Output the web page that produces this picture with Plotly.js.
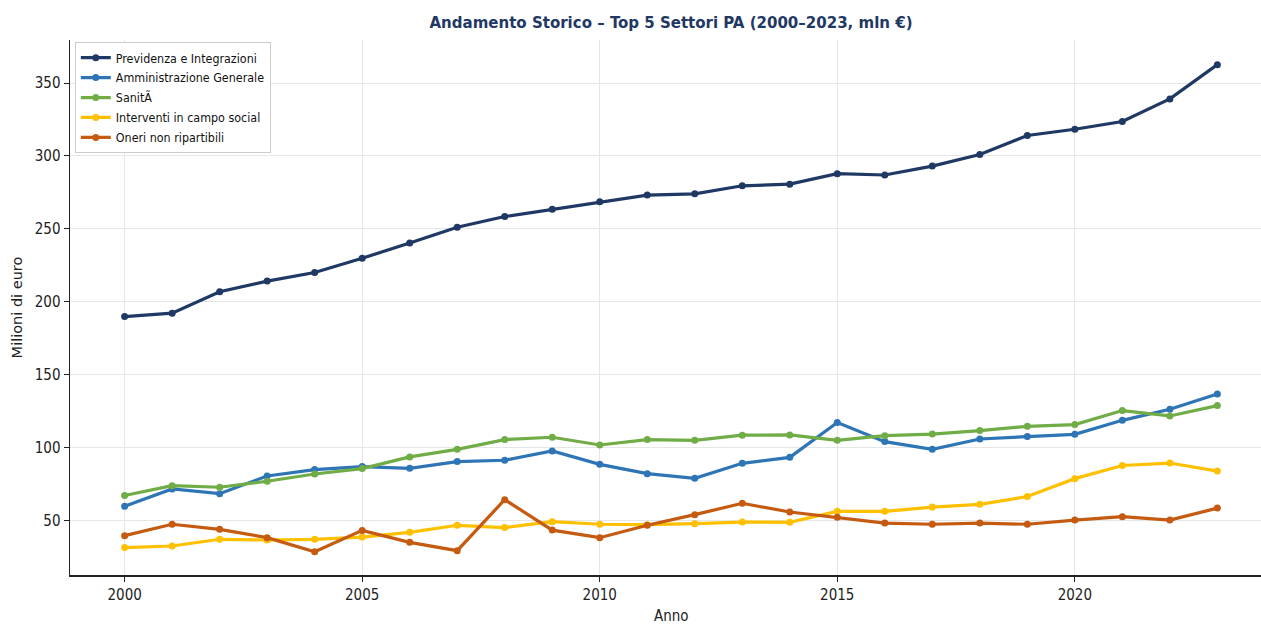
<!DOCTYPE html>
<html>
<head>
<meta charset="utf-8">
<script src="https://cdn.plot.ly/plotly-3.0.1.min.js"></script>
<style>
  html, body { margin: 0; padding: 0; background: #ffffff; overflow: hidden; }
  #wrap { width: 1261px; height: 627px; overflow: hidden; }
  #chart { width: 1275px; height: 627px; }
</style>
</head>
<body>
<div id="wrap"><div id="chart"></div></div>
<script>
const years = [2000, 2001, 2002, 2003, 2004, 2005, 2006, 2007, 2008, 2009, 2010, 2011,
               2012, 2013, 2014, 2015, 2016, 2017, 2018, 2019, 2020, 2021, 2022, 2023];

const seriesNames = ["Previdenza e Integrazioni", "Amministrazione Generale", "SanitÃ",
                     "Interventi in campo social", "Oneri non ripartibili"];

const previdenza = [189.8, 192.1, 206.8, 214.1, 220.0, 229.8, 240.2, 251.1, 258.4, 263.4, 268.6, 273.1,
                    274.0, 279.5, 280.6, 287.8, 286.9, 293.0, 301.0, 314.0, 318.3, 323.6, 339.1, 362.6];

const amministrazione = [59.6, 71.5, 68.3, 80.4, 84.8, 86.9, 85.7, 90.3, 91.2, 97.6, 88.4, 82.0,
                         78.8, 89.1, 93.2, 117.1, 104.0, 98.7, 105.8, 107.5, 109.0, 118.6, 126.2, 136.7];

const sanita = [67.0, 73.8, 72.7, 76.8, 81.8, 85.5, 93.5, 98.7, 105.4, 107.0, 101.7, 105.4,
                104.9, 108.4, 108.6, 104.9, 108.1, 109.2, 111.6, 114.5, 115.7, 125.3, 121.6, 128.7];

const interventi = [31.3, 32.4, 37.0, 36.5, 37.0, 38.5, 41.8, 46.6, 45.0, 49.1, 47.3, 47.0,
                    47.7, 48.8, 48.6, 56.2, 56.2, 59.1, 61.0, 66.3, 78.6, 87.6, 89.3, 83.8];

const oneri = [39.5, 47.3, 43.8, 38.1, 28.5, 43.1, 34.9, 29.2, 64.2, 43.3, 38.1, 46.6,
               53.9, 61.7, 55.7, 52.1, 48.1, 47.3, 48.1, 47.3, 50.2, 52.5, 50.2, 58.4];

const xTickVals = [2000, 2005, 2010, 2015, 2020];
const yTickVals = [50, 100, 150, 200, 250, 300, 350];

const colors = ["#1F3864", "#2E75B6", "#70AD47", "#FFC000", "#C55A11"];
const allSeries = [previdenza, amministrazione, sanita, interventi, oneri];

const FONT = "'DejaVu Sans Condensed', 'Liberation Sans Narrow', 'DejaVu Sans', sans-serif";

const traces = allSeries.map((vals, i) => ({
  type: "scatter",
  mode: "lines+markers",
  x: years,
  y: vals,
  name: seriesNames[i],
  legendgroup: "g" + i,
  line: { color: colors[i], width: 3.2 },
  marker: { color: colors[i], size: 7, symbol: "circle" },
  hoverinfo: "skip"
}));

const layout = {
  width: 1275,
  height: 627,
  paper_bgcolor: "#ffffff",
  plot_bgcolor: "#ffffff",
  margin: { l: 70, r: 3, t: 40, b: 52 },
  showlegend: true,
  title: {
    text: "<b>Andamento Storico – Top 5 Settori PA (2000–2023, mln €)</b>",
    font: { family: FONT, size: 16.7, color: "#1F3864" },
    xref: "paper", x: 0.5, xanchor: "center", y: 0.965, yanchor: "middle"
  },
  xaxis: {
    range: [1998.85, 2024.15],
    tickmode: "array",
    tickvals: xTickVals,
    ticktext: xTickVals.map(String),
    showgrid: true,
    gridcolor: "#E6E6E6",
    gridwidth: 1,
    zeroline: false,
    showline: true,
    linecolor: "#222222",
    linewidth: 1.5,
    ticks: "outside",
    ticklen: 5,
    tickcolor: "#222222",
    tickfont: { family: FONT, size: 15, color: "#222222" },
    fixedrange: true
  },
  yaxis: {
    range: [12.5, 379.5],
    tickmode: "array",
    tickvals: yTickVals,
    showgrid: true,
    gridcolor: "#E6E6E6",
    gridwidth: 1,
    zeroline: false,
    showline: true,
    linecolor: "#222222",
    linewidth: 1.5,
    ticks: "outside",
    ticklen: 5,
    tickcolor: "#222222",
    tickfont: { family: FONT, size: 15, color: "#222222" },
    title: { text: "Milioni di euro", font: { family: "'DejaVu Sans', sans-serif", size: 14.5, color: "#222222" }, standoff: 8 },
    fixedrange: true
  },
  annotations: [{
    text: "Anno",
    xref: "paper", yref: "paper",
    x: 0.5, y: -0.097,
    xanchor: "center", yanchor: "bottom",
    showarrow: false,
    font: { family: FONT, size: 15, color: "#222222" }
  }],
  legend: {
    orientation: "v",
    x: 0.004, y: 0.996, xanchor: "left", yanchor: "top",
    bgcolor: "#ffffff",
    bordercolor: "#CCCCCC",
    borderwidth: 1,
    tracegroupgap: 0.8,
    entrywidth: 144,
    entrywidthmode: "pixels",
    font: { family: FONT, size: 12.4, color: "#111111" }
  },
  hovermode: false
};

Plotly.newPlot("chart", traces, layout, { displayModeBar: false, staticPlot: true });
</script>
</body>
</html>
